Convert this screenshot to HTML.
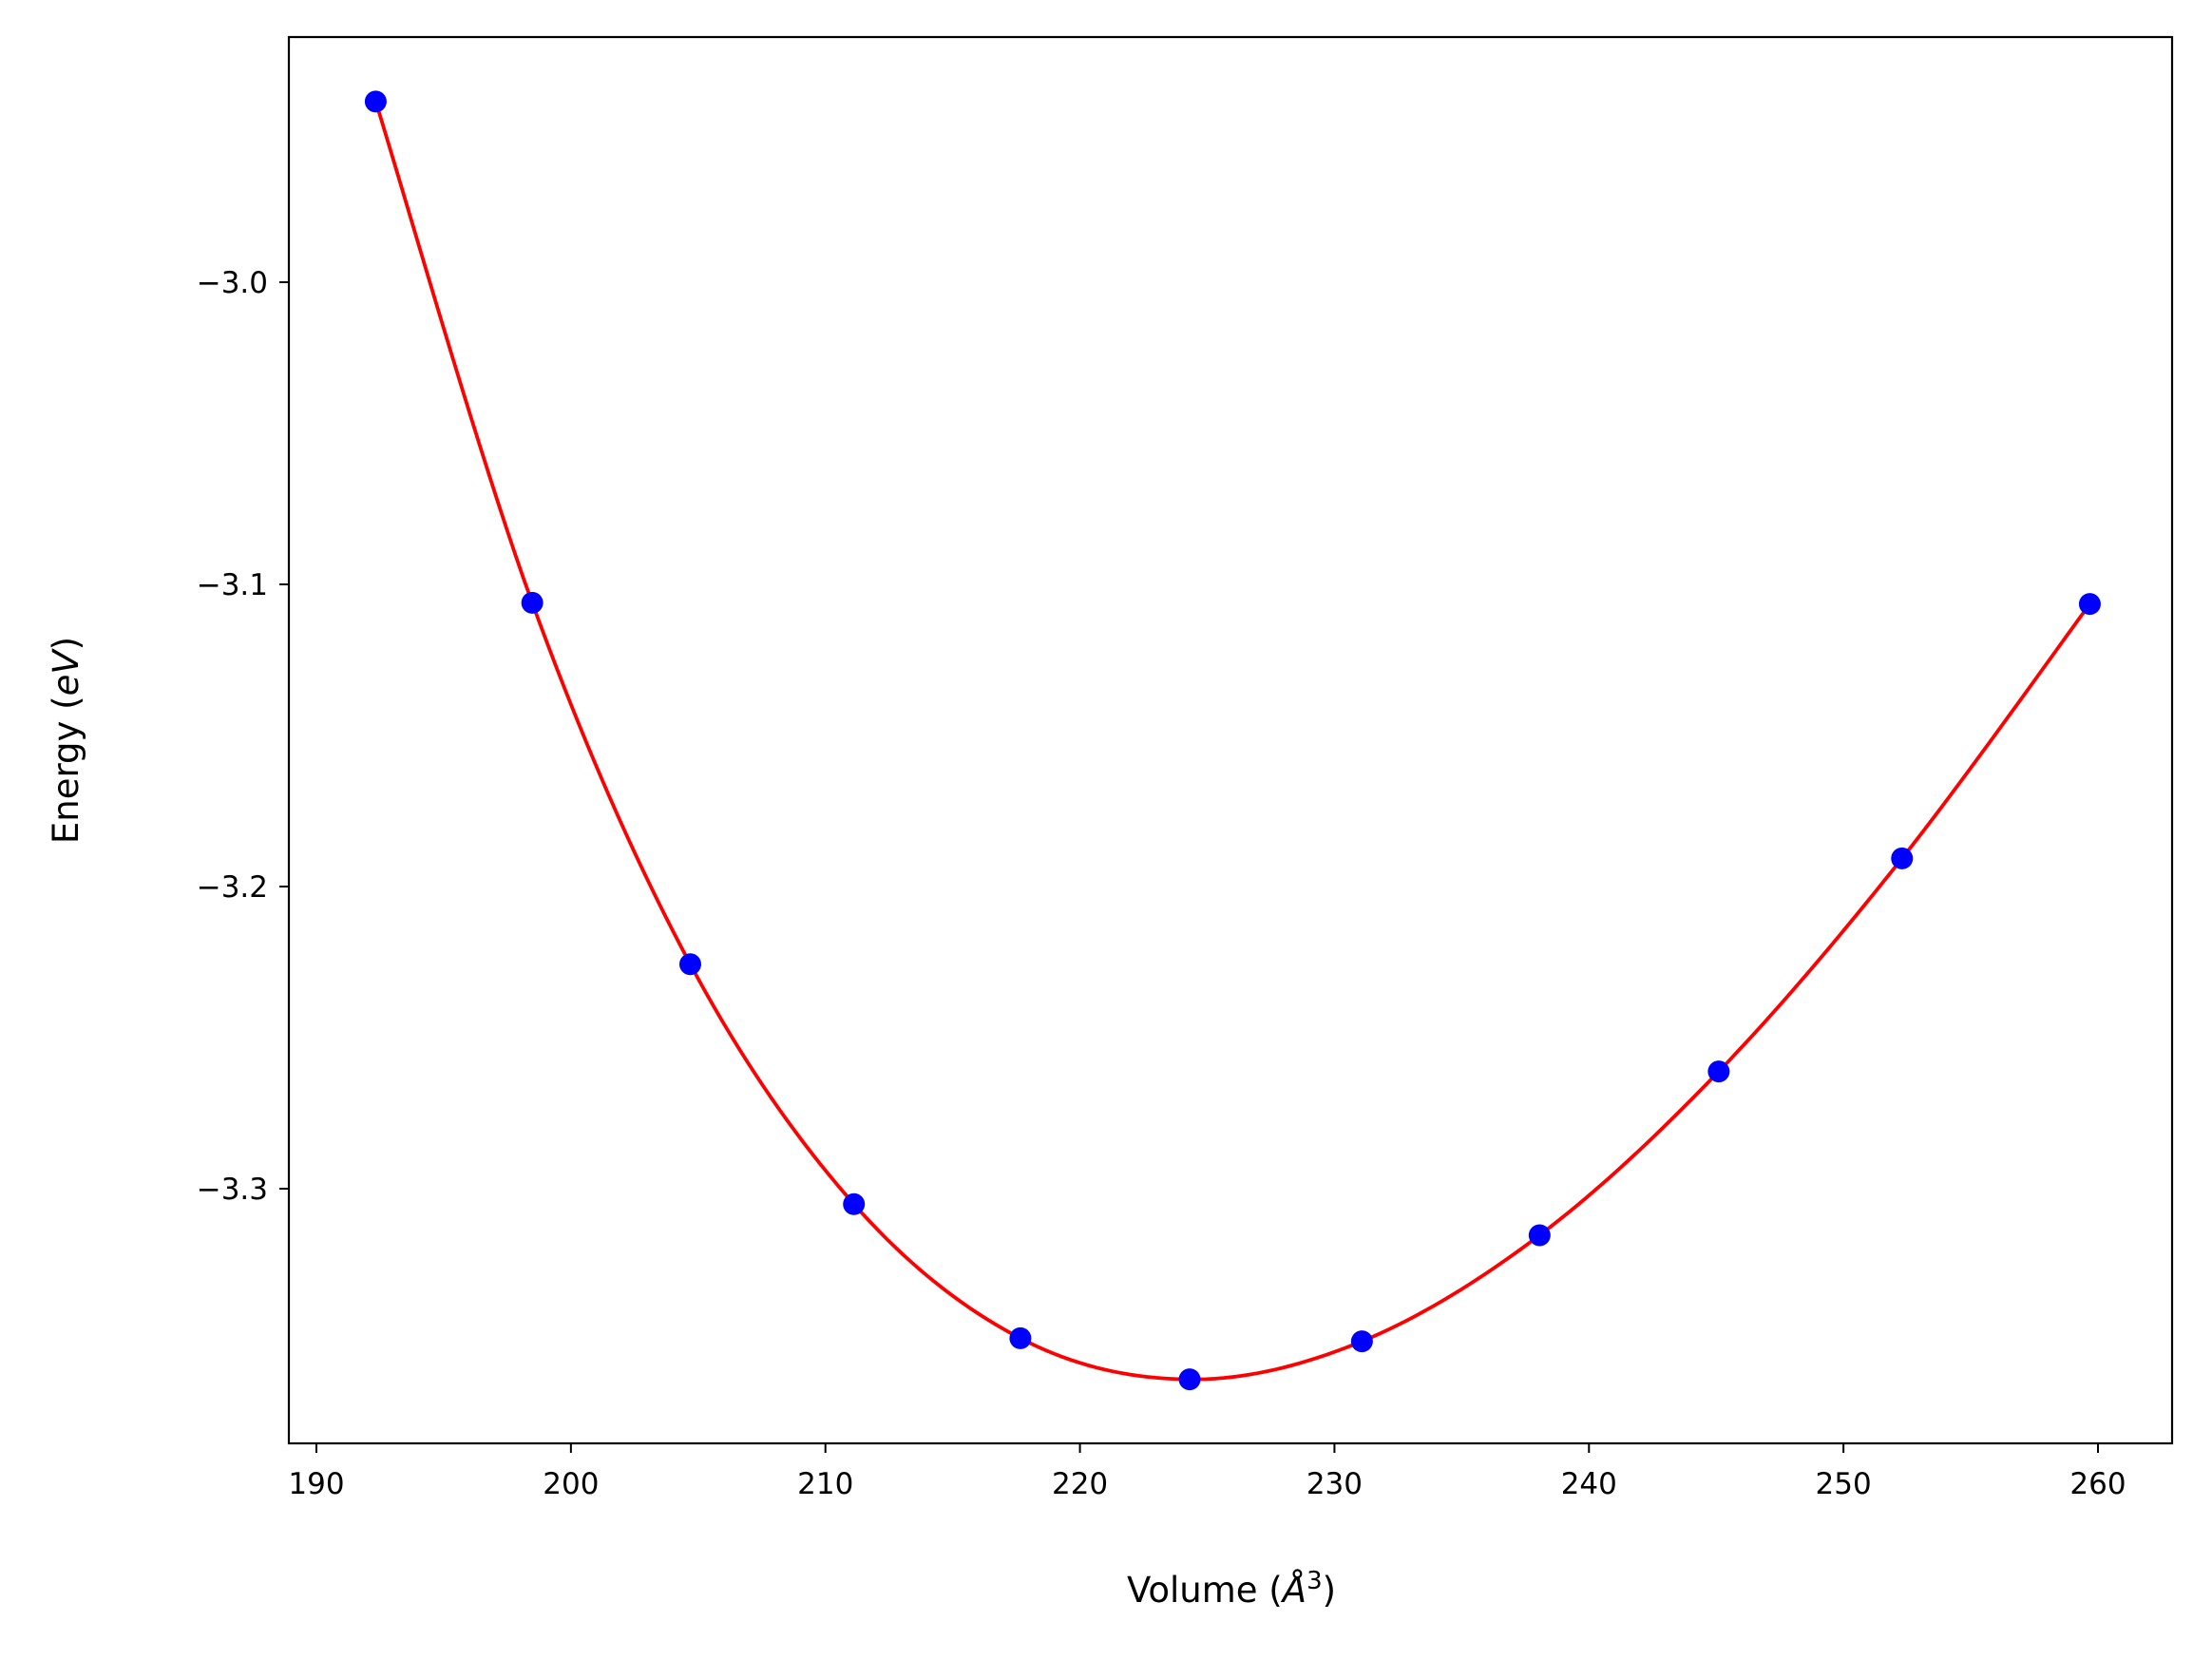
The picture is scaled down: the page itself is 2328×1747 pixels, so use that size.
<!DOCTYPE html>
<html><head><meta charset="utf-8"><style>
html,body{margin:0;padding:0;background:#fff}
svg{display:block;font-family:"DejaVu Sans","Liberation Sans",sans-serif}
</style></head><body>
<svg id="chart" width="2328" height="1747" viewBox="0 0 2328 1747" xmlns="http://www.w3.org/2000/svg">
<rect width="2328" height="1747" fill="#fff"/>
<g id="plot"></g>
<rect x="304" y="39" width="1982" height="1480" fill="none" stroke="#000" stroke-width="2.2"/>
<g id="xticks"></g><g id="yticks"></g>
<text x="1296" y="1686" font-size="37" text-anchor="middle">Volume (<tspan font-style="italic">Å</tspan><tspan font-size="26" dy="-14">3</tspan><tspan dy="14">)</tspan></text>
<text transform="translate(82,779) rotate(-90)" font-size="37" text-anchor="middle">Energy (<tspan font-style="italic">eV</tspan>)</text>
</svg>
<script>
const volumes=[192.33,198.48,204.69,211.12,217.66,224.31,231.08,238.06,245.1,252.3,259.68];
const energies=[-2.9402,-3.1061,-3.2257,-3.3051,-3.3495,-3.3631,-3.3505,-3.3154,-3.2612,-3.1907,-3.1065];
const xTickValues=[190,200,210,220,230,240,250,260];
const yTickValues=[-3.0,-3.1,-3.2,-3.3];
const yTickLabels=["\u22123.0","\u22123.1","\u22123.2","\u22123.3"];

const NS="http://www.w3.org/2000/svg";
function xs(v){return 333+(v-190)*(2208-333)/70;}
function ys(e){return 297+(-3.0-e)*3180;}
function mk(t,a,p){const el=document.createElementNS(NS,t);for(const k in a)el.setAttribute(k,a[k]);p.appendChild(el);return el;}
const plot=document.getElementById('plot');
// smooth curve via Catmull-Rom in data space
let pts=[];
const n=volumes.length;
for(let i=0;i<n-1;i++){
  const p0=i>0?i-1:i,p3=i+2<n?i+2:i+1;
  for(let s=0;s<20;s++){
    const t=s/20,t2=t*t,t3=t2*t;
    const f=(a,b,c,d)=>0.5*((2*b)+(-a+c)*t+(2*a-5*b+4*c-d)*t2+(-a+3*b-3*c+d)*t3);
    pts.push([xs(f(volumes[p0],volumes[i],volumes[i+1],volumes[p3])),ys(f(energies[p0],energies[i],energies[i+1],energies[p3]))]);
  }
}
pts.push([xs(volumes[n-1]),ys(energies[n-1])]);
const line=mk('path',{d:'M'+pts.map(p=>p[0].toFixed(2)+','+p[1].toFixed(2)).join('L'),fill:'none',stroke:'#ff0000','stroke-width':3.8},plot);


volumes.forEach((v,i)=>{
  const c=mk('circle',{cx:xs(v),cy:ys(energies[i]),r:11.5,fill:'#0000ff'},plot);
  
  
});
const xg=document.getElementById('xticks');
xTickValues.forEach(v=>{
  const tk=mk('line',{x1:xs(v),x2:xs(v),y1:1519,y2:1529,stroke:'#000','stroke-width':2},xg);
  
  
  const tx=mk('text',{x:xs(v),y:1572,'font-size':31,'text-anchor':'middle'},xg);
  tx.textContent=String(v);
  
  
});
const yg=document.getElementById('yticks');
yTickValues.forEach((v,i)=>{
  const tk=mk('line',{x1:294,x2:304,y1:ys(v),y2:ys(v),stroke:'#000','stroke-width':2},yg);
  
  
  const tx=mk('text',{x:282,y:ys(v)+11,'font-size':31,'text-anchor':'end'},yg);
  tx.textContent=yTickLabels[i];
  
  
});
</script>
</body></html>
